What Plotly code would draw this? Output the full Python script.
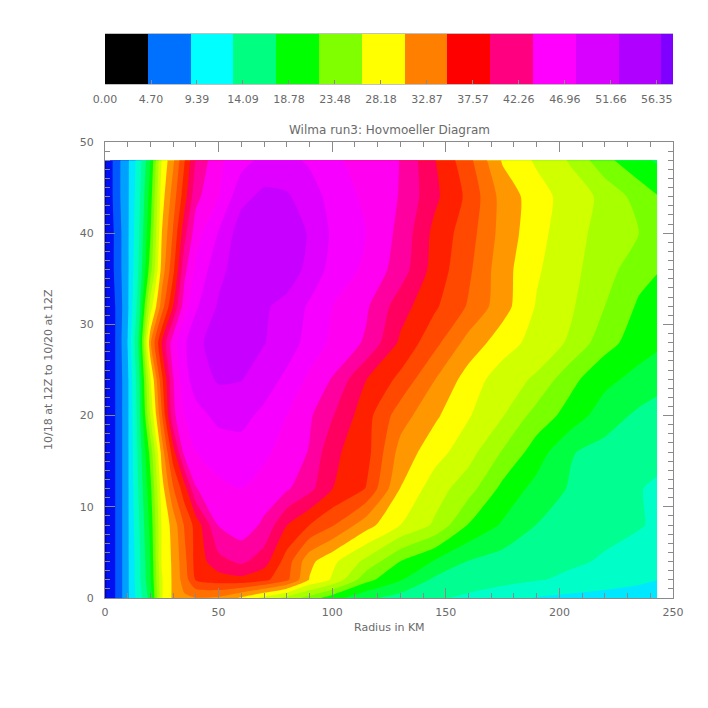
import numpy as np
import plotly.graph_objects as go

# ---------------- data ----------------
radius_km = [0, 5, 10, 15, 20, 25, 30, 35, 40, 50, 60, 70, 80, 90, 100,
             115, 130, 145, 160, 175, 190, 205, 220, 235, 243]
hours = [0, 2, 4, 8, 12, 16, 20, 24, 28, 32, 36, 40, 44, 48]

speed_h00 = [2, 5, 9, 13, 17.5, 28, 31, 32.5, 32.8, 32.5, 30.2, 27.5, 25, 22.5, 19.8, 17, 15.5, 14.5, 13.6, 12.7, 11.6, 11.1, 10.7, 10.4, 10.2]
speed_h02 = [2, 5, 9, 13.5, 18.5, 28, 31, 34, 37.8, 38.8, 39.2, 38.2, 35.8, 30.4, 27.9, 21.9, 19, 16, 15.4, 14.8, 14.25, 13.7, 13.1, 12.3, 11.8]
speed_h04 = [2, 5, 9, 13.5, 18.8, 28.5, 31, 34.5, 38.5, 41.5, 42.8, 41, 36.5, 31.2, 28.8, 25.2, 21.1, 18.6, 16.3, 15.4, 14.8, 14.4, 13.9, 13.5, 13.2]
speed_h08 = [2, 5, 9, 14, 19.5, 28.5, 31.5, 35.5, 38.5, 44.8, 46, 44.2, 40, 37.6, 35.5, 31.5, 28.2, 25.5, 21, 18.5, 16.4, 15.2, 14.6, 14.2, 13.9]
speed_h12 = [2, 5, 9, 14.5, 20.5, 29.5, 35, 39, 44.5, 46.5, 47, 46, 45, 43, 40, 37.5, 30.5, 27, 24.5, 20.5, 18, 16.2, 15.2, 14.2, 13.8]
speed_h16 = [2, 5, 9, 15, 22, 31.5, 39, 45.5, 47, 48, 48.5, 47.5, 46, 44.5, 40.5, 38.5, 32, 29.2, 26.8, 23.3, 20, 16.6, 15.7, 15, 14.7]
speed_h20 = [2, 5, 9, 15.5, 26, 35, 44, 47, 48.5, 50, 50, 48.8, 47, 45, 42.5, 38.5, 34, 31, 28.4, 26, 22.5, 20.2, 17.5, 16, 15.5]
speed_h24 = [2, 5, 9, 16, 28, 37, 44.5, 48.5, 50.5, 52, 51.8, 50.5, 48.8, 46.5, 44.5, 40, 37, 33, 29.5, 27, 25.5, 21.8, 19.5, 18, 17.3]
speed_h28 = [2, 5, 9.5, 17, 32.5, 40, 46, 49, 51, 53, 52.5, 51.8, 50.5, 48.5, 46.5, 44.3, 39.5, 36, 32, 29.3, 27.3, 25.5, 22, 20, 19.3]
speed_h32 = [2, 5, 9, 15.5, 27, 34, 40, 46, 49, 52, 52.3, 52, 51, 49, 47, 45, 41, 38, 35, 31.5, 28, 26.2, 23.5, 20.8, 20]
speed_h36 = [2, 5.5, 9, 14.5, 22.5, 31.5, 37, 44, 47.5, 51, 53, 53.5, 53, 51, 48.5, 46.5, 43.5, 39, 35.7, 31.5, 28.5, 26.5, 24.5, 22, 21.3]
speed_h40 = [2, 5.5, 9, 14, 21, 30.5, 35.5, 41.5, 46, 49.5, 53, 53.8, 53, 51.5, 49, 47, 44, 39.3, 36.3, 32, 29, 26.7, 25, 23.5, 22.8]
speed_h44 = [2, 6, 9, 13.5, 20, 29.5, 34, 39, 44, 47, 51, 52.3, 52, 50.5, 48.5, 46.5, 44.5, 40.5, 37, 32, 29.3, 27, 25.3, 22.5, 21.3]
speed_h48 = [2, 6, 9, 13, 18.8, 28.5, 32.5, 37.5, 42.5, 46.5, 48.5, 50, 50, 49, 47.5, 46, 44.6, 40.1, 36, 30.3, 27.8, 25.6, 21.8, 19.5, 18.5]

cb_ticks = [0.00, 4.70, 9.39, 14.09, 18.78, 23.48, 28.18, 32.87, 37.57, 42.26, 46.96, 51.66, 56.35]
cb_colors = ["#000000", "#0070ff", "#00ffff", "#00ff80", "#00ff00", "#80ff00", "#ffff00",
             "#ff8000", "#ff0000", "#ff0080", "#ff00ff", "#d800ff", "#b000ff", "#8000ff"]
band_colors = ["#0000c8", "#0010f0", "#0058ff", "#00a0ff", "#00e8ff", "#00ffc8", "#00ff90",
               "#00ff40", "#00ff00", "#78ff00", "#a8ff00", "#d0ff00", "#ffff00", "#ff9800",
               "#ff7000", "#ff4800", "#ff2000", "#ff0060", "#ff00a0", "#ff00f0", "#f800ff",
               "#e000ff", "#c800ff", "#b400ff"]

title_text = "Wilma run3: Hovmoeller Diagram"
x_title = "Radius in KM"
y_title = "10/18 at 12Z to 10/20 at 12Z"

# ---------------- figure ----------------
z = np.array([speed_h00, speed_h02, speed_h04, speed_h08, speed_h12, speed_h16, speed_h20,
              speed_h24, speed_h28, speed_h32, speed_h36, speed_h40, speed_h44, speed_h48])

step = (cb_ticks[1] - cb_ticks[0]) / 2.0
nb = len(band_colors)
scale = []
for j, c in enumerate(band_colors):
    lo = max(0.0, (j - 0.5) / (nb - 1))
    hi = min(1.0, (j + 0.5) / (nb - 1))
    scale.append([lo, c])
    scale.append([hi, c])

W = H = 708
FONT = "DejaVu Sans"
TXT = "#6a6a6a"
AX = "#8a8a8a"

fig = go.Figure()
fig.add_trace(go.Contour(
    x=radius_km, y=hours, z=z,
    autocontour=False,
    contours=dict(start=step, end=cb_ticks[-1] - 0.5 * step, size=step,
                  coloring="fill", showlines=False),
    colorscale=scale, showscale=False,
    line=dict(width=0, smoothing=0.6),
    hoverinfo="skip",
    xaxis="x", yaxis="y",
))

# colour strip on top
nblk = len(cb_colors) - 1
blk = 4.37
edges = [i * blk for i in range(nblk + 1)] + [58.0]
fig.add_trace(go.Heatmap(
    x=edges, y=[0, 1], z=[list(range(len(cb_colors)))],
    colorscale=[[i / (len(cb_colors) - 1), c] for i, c in enumerate(cb_colors)],
    zmin=0, zmax=len(cb_colors) - 1, showscale=False, hoverinfo="skip",
    xaxis="x2", yaxis="y2",
))

x0, x1 = 105 / W, 673 / W
fig.update_layout(
    width=W, height=H,
    margin=dict(l=0, r=0, t=0, b=0),
    paper_bgcolor="white", plot_bgcolor="white",
    font=dict(family=FONT, size=11, color=TXT),
    showlegend=False,
    xaxis=dict(domain=[x0, x1], range=[0, 250], tickvals=[0, 50, 100, 150, 200, 250],
               ticks="inside", ticklen=10, tickcolor=AX, tickwidth=1,
               minor=dict(dtick=10, ticks="inside", ticklen=5, tickcolor=AX),
               showline=True, linecolor=AX, linewidth=1, mirror="allticks",
               showgrid=False, zeroline=False, anchor="y", ticklabelstandoff=4,
               automargin=False),
    yaxis=dict(domain=[1 - 598 / H, 1 - 142 / H], range=[0, 50], tickvals=[0, 10, 20, 30, 40, 50],
               ticks="inside", ticklen=10, tickcolor=AX, tickwidth=1,
               minor=dict(dtick=1, ticks="inside", ticklen=5, tickcolor=AX),
               showline=True, linecolor=AX, linewidth=1, mirror="allticks",
               showgrid=False, zeroline=False, anchor="x", ticklabelstandoff=8,
               automargin=False),
    xaxis2=dict(domain=[x0, x1], range=[0, 58], tickvals=cb_ticks,
                ticktext=["%.2f" % v for v in cb_ticks],
                ticks="inside", ticklen=4, tickcolor=AX,
                showline=True, linecolor="#c0c0c0", mirror=True,
                showgrid=False, zeroline=False, anchor="y2", ticklabelstandoff=5,
                automargin=False),
    yaxis2=dict(domain=[1 - 84 / H, 1 - 34 / H], range=[0, 1], visible=False, anchor="x2",
                automargin=False),
    annotations=[
        dict(text=title_text, x=(x0 + x1) / 2, y=1 - 130 / H, xref="paper", yref="paper",
             showarrow=False, font=dict(size=12, color=TXT), xanchor="center", yanchor="middle"),
        dict(text=x_title, x=(x0 + x1) / 2, y=1 - 627 / H, xref="paper", yref="paper",
             showarrow=False, font=dict(size=11, color=TXT), xanchor="center", yanchor="middle"),
        dict(text=y_title, x=48 / W, y=1 - 370 / H, xref="paper", yref="paper", textangle=-90,
             showarrow=False, font=dict(size=11, color=TXT), xanchor="center", yanchor="middle"),
    ],
)

fig.write_html("out.html",
               config={"displayModeBar": False},
               post_script="document.body.style.margin='0';document.body.style.overflow='hidden';")
